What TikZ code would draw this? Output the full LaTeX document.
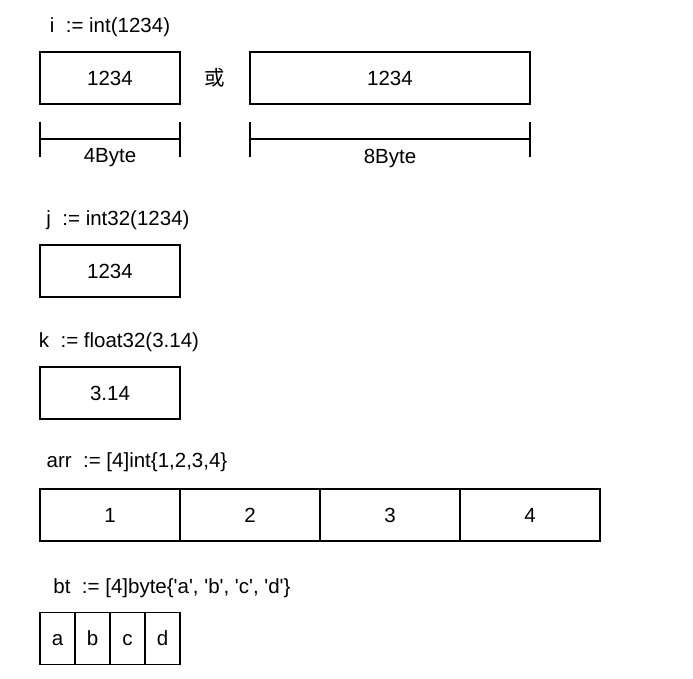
\documentclass[tikz,border=0pt]{standalone}
\usepackage{fontspec}
\setmainfont{Liberation Sans}[Ligatures=TeXOff]
\newfontfamily\cjk{Noto Sans CJK SC}
\begin{document}
\begin{tikzpicture}[x=1pt,y=-1pt,
  cell/.style={draw,line width=1.3pt,inner sep=0pt,minimum height=52pt,text height=14.5pt,text depth=0pt,font=\fontsize{20.5}{24}\selectfont},
  lbl/.style={inner sep=0pt,text height=14.5pt,text depth=4pt,font=\fontsize{20.5}{24}\selectfont},
  dim/.style={line width=1.3pt}]
\useasboundingbox (0,0) rectangle (693,679);
% i
\node[lbl] (li) at (110,27) {i \ := int(1234)};
\node[cell,minimum width=140pt] (i4) at (110,78) {1234};
\node[lbl] (or) at (215,80) {\cjk 或};
\node[cell,minimum width=280pt] (i8) at (390,78) {1234};
\coordinate (a1) at (40,122); \coordinate (a2) at (40,157);
\coordinate (a3) at (180,122); \coordinate (a4) at (180,157);
\coordinate (a5) at (40,139); \coordinate (a6) at (180,139);
\draw[dim] (a1) -- (a2); \draw[dim] (a3) -- (a4); \draw[dim] (a5) -- (a6);
\node[lbl] (b4) at (110,157) {4Byte};
\coordinate (c1) at (250,122); \coordinate (c2) at (250,157);
\coordinate (c3) at (530,122); \coordinate (c4) at (530,157);
\coordinate (c5) at (250,139); \coordinate (c6) at (530,139);
\draw[dim] (c1) -- (c2); \draw[dim] (c3) -- (c4); \draw[dim] (c5) -- (c6);
\node[lbl] (b8) at (390,158) {8Byte};
% j
\node[lbl] (lj) at (118,220) {j \ := int32(1234)};
\node[cell,minimum width=140pt] (j) at (110,271) {1234};
% k
\node[lbl] (lk) at (119,342) {k \ := float32(3.14)};
\node[cell,minimum width=140pt] (k) at (110,393) {3.14};
% arr
\node[lbl] (la) at (137,462) {arr \ := [4]int\{1,2,3,4\}};
\node[cell,minimum width=140pt] (r1) at (110,515) {1};
\node[cell,minimum width=140pt] (r2) at (250,515) {2};
\node[cell,minimum width=140pt] (r3) at (390,515) {3};
\node[cell,minimum width=140pt] (r4) at (530,515) {4};
% bt
\node[lbl] (lb) at (172,588) {bt \ := [4]byte\{'a', 'b', 'c', 'd'\}};
\node[cell,minimum width=35pt] (t1) at (57.5,638.5) {a};
\node[cell,minimum width=35pt] (t2) at (92.5,638.5) {b};
\node[cell,minimum width=35pt] (t3) at (127.5,638.5) {c};
\node[cell,minimum width=35pt] (t4) at (162.5,638.5) {d};
\end{tikzpicture}
\end{document}
